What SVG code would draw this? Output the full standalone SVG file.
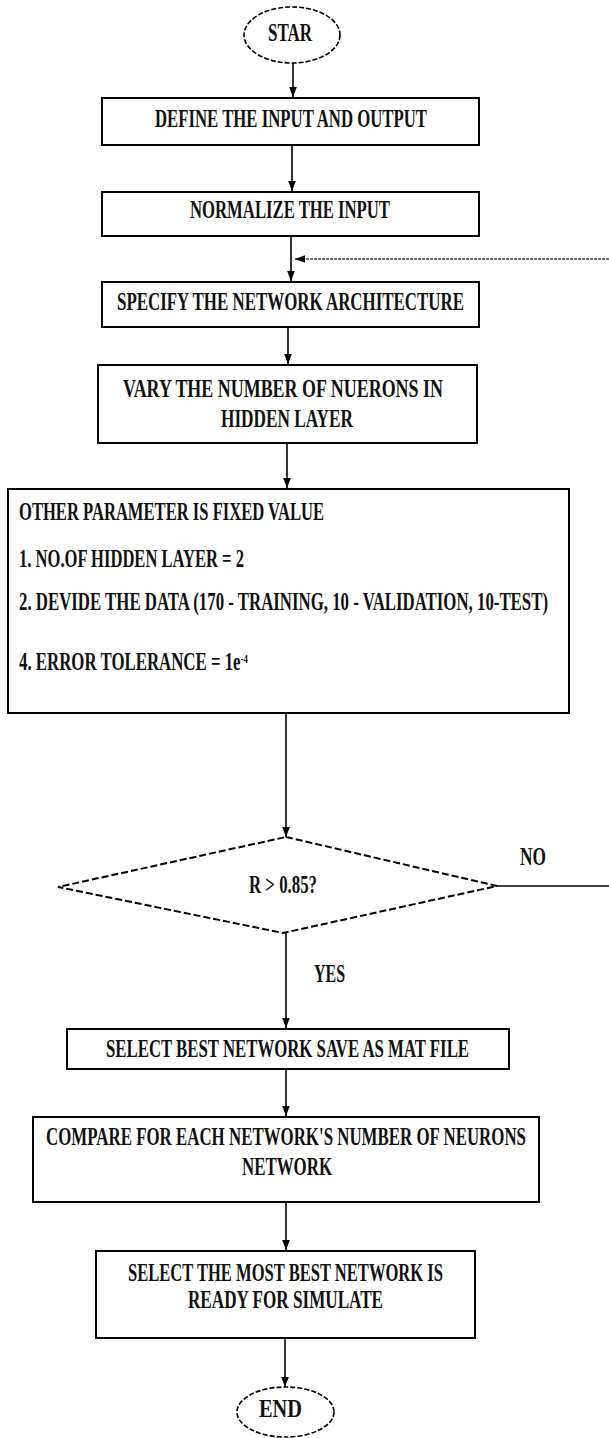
<svg xmlns="http://www.w3.org/2000/svg" width="609" height="1438" viewBox="0 0 609 1438">
<style>
.box{fill:#fff;stroke:#000;stroke-width:2}
.term{fill:#fff;stroke:#000;stroke-width:1.6;stroke-dasharray:5 2}
.dia{fill:#fff;stroke:#000;stroke-width:2;stroke-dasharray:7 3}
.t{font-family:"Liberation Serif","Times New Roman",serif;font-weight:bold;font-size:25px;fill:#111}
.c{stroke:#000;stroke-width:1.6;fill:none}
.fb{stroke:#444;stroke-width:1.5;stroke-dasharray:3 1;fill:none}
</style>
<defs>
<marker id="ah" markerUnits="userSpaceOnUse" markerWidth="10" markerHeight="14" refX="13" refY="5" orient="auto" viewBox="0 0 13 10">
<path d="M0,0 L13,5 L0,10 z" fill="#000"/>
</marker>
</defs>
<g id="connectors">
<line class="c" x1="293" y1="63" x2="293" y2="97" marker-end="url(#ah)"/>
<line class="c" x1="292" y1="145" x2="292" y2="191" marker-end="url(#ah)"/>
<line class="c" x1="291" y1="236" x2="291" y2="281" marker-end="url(#ah)"/>
<line class="fb" x1="609" y1="259" x2="295" y2="259" marker-end="url(#ah)"/>
<line class="c" x1="288" y1="327" x2="288" y2="364" marker-end="url(#ah)"/>
<line class="c" x1="287" y1="443" x2="287" y2="488" marker-end="url(#ah)"/>
<line class="c" x1="286" y1="713" x2="286" y2="837" marker-end="url(#ah)"/>
<line class="c" x1="497" y1="886" x2="609" y2="886"/>
<line class="c" x1="286" y1="933" x2="286" y2="1028" marker-end="url(#ah)"/>
<line class="c" x1="286" y1="1069" x2="286" y2="1116" marker-end="url(#ah)"/>
<line class="c" x1="286" y1="1202" x2="286" y2="1250" marker-end="url(#ah)"/>
<line class="c" x1="285" y1="1338" x2="285" y2="1387" marker-end="url(#ah)"/>
</g>
<g id="start">
<ellipse class="term" cx="292" cy="35" rx="48" ry="28"/>
<text class="t" transform="matrix(0.7 0 0 1 268 41)" textLength="62.9" lengthAdjust="spacingAndGlyphs">STAR</text>
</g>
<g id="define">
<rect class="box" x="102" y="98" width="377" height="47"/>
<text class="t" transform="matrix(0.7 0 0 1 155 127)" textLength="388.6" lengthAdjust="spacingAndGlyphs">DEFINE THE INPUT AND OUTPUT</text>
</g>
<g id="normalize">
<rect class="box" x="102" y="192" width="377" height="44"/>
<text class="t" transform="matrix(0.7 0 0 1 190 218)" textLength="285.7" lengthAdjust="spacingAndGlyphs">NORMALIZE THE INPUT</text>
</g>
<g id="specify">
<rect class="box" x="102" y="282" width="377" height="45"/>
<text class="t" transform="matrix(0.7 0 0 1 117 310)" textLength="495.7" lengthAdjust="spacingAndGlyphs">SPECIFY THE NETWORK ARCHITECTURE</text>
</g>
<g id="vary">
<rect class="box" x="98" y="365" width="379" height="78"/>
<text class="t" transform="matrix(0.7 0 0 1 123 397)" textLength="457.1" lengthAdjust="spacingAndGlyphs">VARY THE NUMBER OF NUERONS IN</text>
<text class="t" transform="matrix(0.7 0 0 1 221 427)" textLength="188.6" lengthAdjust="spacingAndGlyphs">HIDDEN LAYER</text>
</g>
<g id="params">
<rect class="box" x="8" y="489" width="561" height="224"/>
<text class="t" transform="matrix(0.7 0 0 1 19 520)" textLength="435.7" lengthAdjust="spacingAndGlyphs">OTHER PARAMETER IS FIXED VALUE</text>
<text class="t" transform="matrix(0.7 0 0 1 19 567)" textLength="321.4" lengthAdjust="spacingAndGlyphs">1. NO.OF HIDDEN LAYER = 2</text>
<text class="t" transform="matrix(0.7 0 0 1 19 610)" textLength="755.7" lengthAdjust="spacingAndGlyphs">2. DEVIDE THE DATA (170 - TRAINING, 10 - VALIDATION, 10-TEST)</text>
<text class="t" transform="matrix(0.7 0 0 1 19 670)" textLength="327" lengthAdjust="spacingAndGlyphs">4. ERROR TOLERANCE = 1e<tspan baseline-shift="super" style="font-size:13px">-4</tspan></text>
</g>
<g id="decision">
<polygon class="dia" points="286,837 497,886 283,933 58,887"/>
<text class="t" transform="matrix(0.7 0 0 1 249 893)" textLength="97.1" lengthAdjust="spacingAndGlyphs">R &gt; 0.85?</text>
<text class="t" transform="matrix(0.7 0 0 1 520 865)" textLength="37.1" lengthAdjust="spacingAndGlyphs">NO</text>
<text class="t" transform="matrix(0.7 0 0 1 314 982)" textLength="44.3" lengthAdjust="spacingAndGlyphs">YES</text>
</g>
<g id="selectbest">
<rect class="box" x="67" y="1029" width="442" height="40"/>
<text class="t" transform="matrix(0.7 0 0 1 106 1057)" textLength="518.6" lengthAdjust="spacingAndGlyphs">SELECT BEST NETWORK SAVE AS MAT FILE</text>
</g>
<g id="compare">
<rect class="box" x="33" y="1117" width="506" height="85"/>
<text class="t" transform="matrix(0.7 0 0 1 46 1145)" textLength="685.7" lengthAdjust="spacingAndGlyphs">COMPARE FOR EACH NETWORK'S NUMBER OF NEURONS</text>
<text class="t" transform="matrix(0.7 0 0 1 242 1175)" textLength="128.6" lengthAdjust="spacingAndGlyphs">NETWORK</text>
</g>
<g id="selectmost">
<rect class="box" x="96" y="1251" width="379" height="87"/>
<text class="t" transform="matrix(0.7 0 0 1 128 1281)" textLength="450" lengthAdjust="spacingAndGlyphs">SELECT THE MOST BEST NETWORK IS</text>
<text class="t" transform="matrix(0.7 0 0 1 188 1308)" textLength="278.6" lengthAdjust="spacingAndGlyphs">READY FOR SIMULATE</text>
</g>
<g id="end">
<ellipse class="term" cx="285.5" cy="1412" rx="48.5" ry="25"/>
<text class="t" transform="matrix(0.7 0 0 1 259 1417)" textLength="61.4" lengthAdjust="spacingAndGlyphs">END</text>
</g>
</svg>
